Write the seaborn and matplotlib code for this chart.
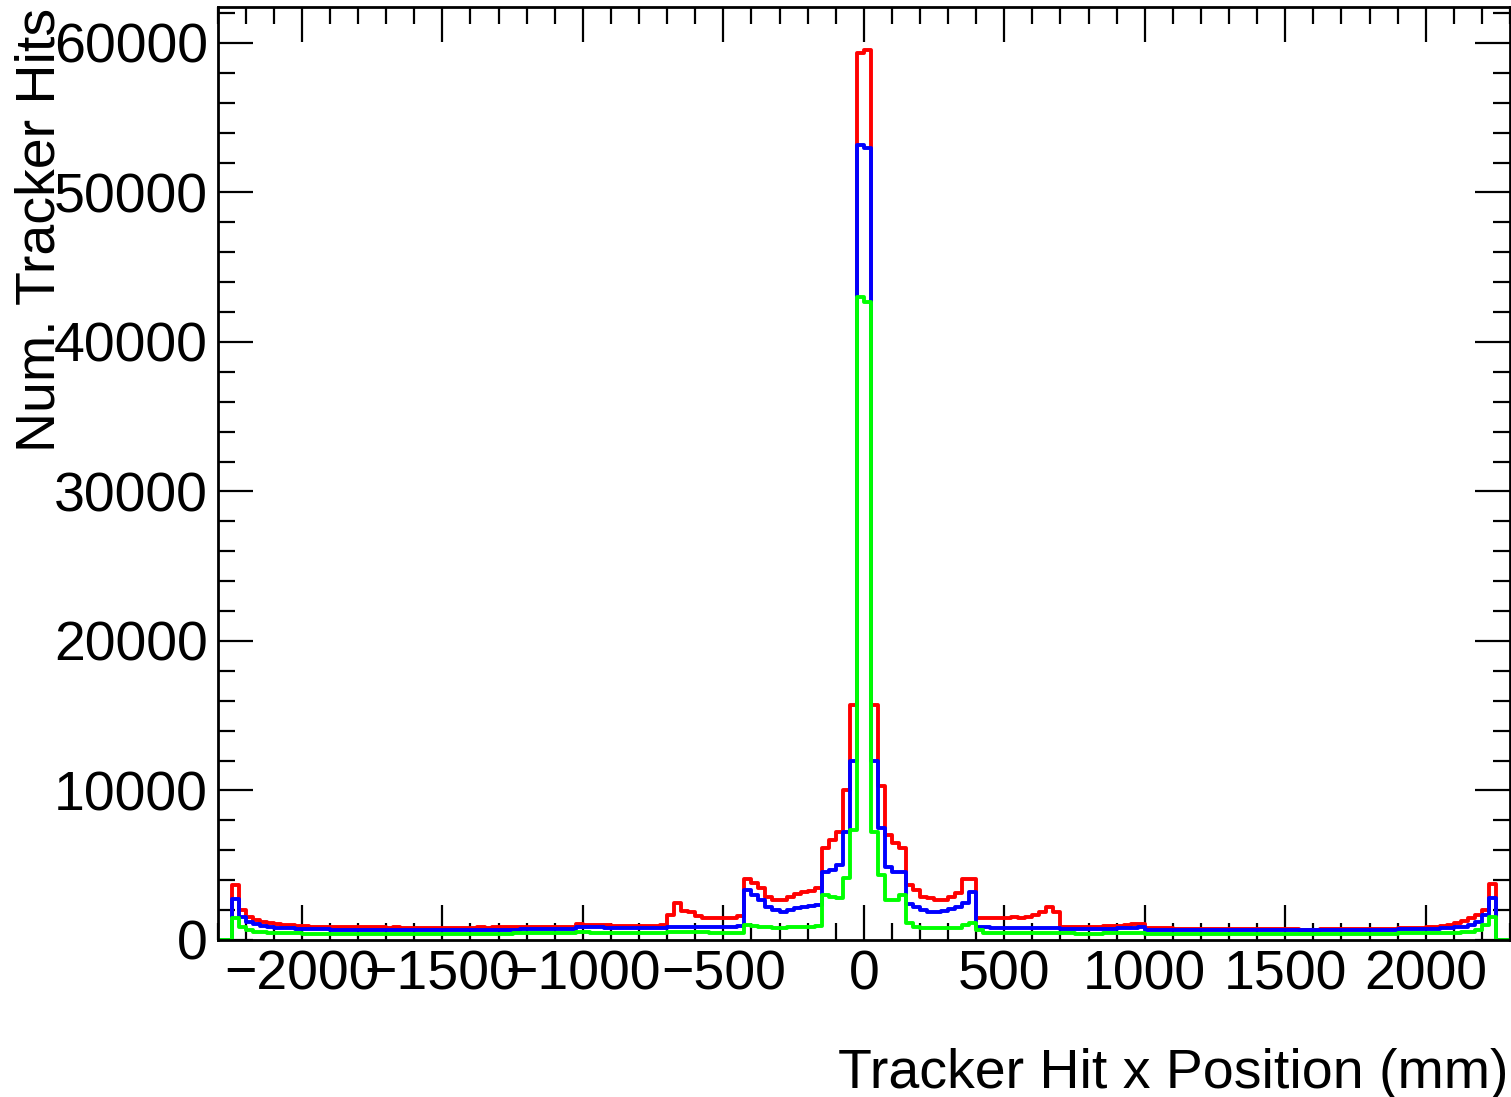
import numpy as np
import pandas as pd
import matplotlib
matplotlib.use("Agg")
import matplotlib.pyplot as plt
import seaborn as sns
from matplotlib.ticker import MultipleLocator

# ---------------- data (25 mm bins from -2300 to 2300) ----------------
bin_width = 25
x_min, x_max = -2300, 2300

red_counts = [
    0, 0, 3700, 2000, 1560, 1340, 1230, 1120, 1060, 1010,
    980, 950, 920, 900, 890, 880, 870, 860, 850, 860,
    850, 840, 850, 840, 830, 840, 830, 820, 830, 820,
    830, 820, 810, 820, 830, 820, 830, 840, 830, 840,
    850, 840, 850, 860, 850, 860, 870, 860, 870, 880,
    890, 1050, 1020, 1000, 980, 970, 960, 950, 950, 940,
    940, 950, 960, 980, 1650, 2500, 1950, 1900, 1600, 1480,
    1450, 1450, 1450, 1500, 1580, 4100, 3790, 3460, 2900, 2650,
    2700, 2900, 3100, 3200, 3300, 3500, 6130, 6690, 7250, 10000,
    15700, 59300, 59500, 15700, 10300, 7000, 6470, 6130, 3680, 3350,
    2900, 2800, 2680, 2680, 2900, 3120, 4050, 4050, 1450, 1450,
    1460, 1480, 1500, 1520, 1500, 1560, 1670, 1900, 2230, 1900,
    900, 900, 890, 890, 900, 900, 910, 920, 950, 1000,
    1050, 1100, 790, 780, 770, 770, 760, 760, 750, 750,
    740, 740, 730, 730, 730, 720, 720, 720, 720, 710,
    710, 710, 710, 710, 700, 700, 700, 710, 710, 710,
    720, 720, 720, 730, 730, 740, 750, 760, 770, 780,
    780, 820, 860, 900, 960, 1000, 1150, 1250, 1450, 1650,
    2000, 3750, 0, 0,
]

blue_counts = [
    0, 0, 2720, 1560, 1230, 1070, 940, 870, 820, 790,
    770, 750, 740, 730, 720, 710, 700, 700, 690, 690,
    680, 680, 680, 670, 670, 670, 670, 670, 670, 670,
    670, 670, 670, 680, 680, 680, 680, 690, 690, 690,
    700, 700, 700, 710, 710, 720, 720, 730, 730, 740,
    740, 880, 860, 850, 840, 830, 820, 810, 800, 800,
    800, 800, 810, 820, 880, 900, 900, 890, 880, 870,
    860, 860, 870, 880, 950, 3345, 3010, 2680, 2230, 2010,
    1900, 2010, 2120, 2230, 2270, 2340, 4570, 4680, 5020, 7250,
    12000, 53200, 53000, 12000, 7470, 4900, 4570, 4570, 2410, 2230,
    2010, 1900, 1900, 1960, 2050, 2230, 2450, 3230, 890, 850,
    830, 820, 810, 800, 790, 790, 790, 790, 790, 780,
    760, 750, 740, 740, 740, 740, 750, 760, 780, 800,
    820, 840, 680, 670, 670, 660, 660, 660, 650, 650,
    650, 650, 640, 640, 640, 640, 640, 640, 640, 640,
    640, 640, 640, 640, 640, 640, 650, 650, 650, 650,
    660, 660, 660, 670, 670, 680, 690, 700, 710, 720,
    730, 740, 740, 760, 780, 810, 850, 890, 1000, 1230,
    1670, 2790, 0, 0,
]

green_counts = [
    0, 0, 1450, 890, 670, 560, 510, 480, 460, 450,
    440, 440, 430, 430, 430, 430, 430, 430, 420, 420,
    420, 420, 420, 420, 420, 420, 420, 420, 420, 420,
    420, 420, 420, 420, 420, 420, 430, 430, 430, 430,
    430, 430, 440, 440, 440, 440, 450, 450, 450, 460,
    460, 520, 510, 500, 500, 490, 490, 480, 470, 470,
    470, 470, 480, 480, 520, 540, 540, 530, 520, 510,
    500, 490, 480, 470, 460, 1000, 960, 900, 850, 820,
    820, 840, 860, 880, 900, 930, 3010, 2900, 2800, 4125,
    7360, 43000, 42700, 7250, 4350, 2680, 2680, 3010, 1115, 890,
    800, 780, 780, 780, 790, 800, 1000, 1115, 670, 450,
    450, 450, 450, 450, 450, 450, 450, 450, 450, 450,
    440, 440, 430, 430, 430, 430, 440, 450, 470, 480,
    490, 500, 430, 420, 420, 420, 420, 420, 410, 410,
    410, 410, 410, 410, 410, 410, 410, 410, 410, 410,
    410, 410, 410, 410, 410, 410, 410, 410, 410, 410,
    420, 420, 420, 420, 420, 430, 430, 430, 440, 440,
    450, 450, 460, 460, 470, 480, 490, 520, 557, 670,
    1000, 1560, 0, 0,
]

series_colors = ["#ff0000", "#0000ff", "#00ff00"]
x_label = "Tracker Hit x Position (mm)"
y_label = "Num. Tracker Hits"

n_bins = len(red_counts)
centers = x_min + bin_width * (np.arange(n_bins) + 0.5)

# ---------------- style ----------------
sns.set_style("ticks")
plt.rcParams["font.family"] = ["Liberation Sans", "DejaVu Sans"]
plt.rcParams["axes.unicode_minus"] = True

W, H = 1511, 1097
fig = plt.figure(figsize=(W / 100, H / 100), dpi=100)
ax_l, ax_r, ax_t, ax_b = 217.6, 1510.0, 7.0, 940.0
ax = fig.add_axes([ax_l / W, (H - ax_b) / H, (ax_r - ax_l) / W, (ax_b - ax_t) / H])

for counts, color in zip([red_counts, blue_counts, green_counts], series_colors):
    df = pd.DataFrame({"x": centers, "w": np.asarray(counts, dtype=float)})
    sns.histplot(data=df, x="x", weights="w", bins=n_bins,
                 binrange=(x_min, x_max), element="step",
                 fill=False, color=color, linewidth=2.8, ax=ax)

ax.set_xlim(x_min, x_max)
ax.set_ylim(0, 62400)

ax.xaxis.set_major_locator(MultipleLocator(500))
ax.xaxis.set_minor_locator(MultipleLocator(100))
ax.yaxis.set_major_locator(MultipleLocator(10000))
ax.yaxis.set_minor_locator(MultipleLocator(2000))

ax.tick_params(which="both", direction="in", top=True, right=True,
               color="black", width=1.6, labelsize=40, labelcolor="black")
ax.tick_params(which="major", length=25)
ax.tick_params(which="minor", length=12.5)
ax.tick_params(axis="x", pad=7)
ax.tick_params(axis="y", pad=7)

for sp in ax.spines.values():
    sp.set_visible(True)
    sp.set_color("black")
    sp.set_linewidth(2)

ax.set_xlabel(x_label, fontsize=40, ha="right", va="baseline", color="black")
ax.xaxis.set_label_coords((1508 - ax_l) / (ax_r - ax_l), (ax_b - 1088) / (ax_b - ax_t))
ax.set_ylabel(y_label, fontsize=40, ha="right", va="baseline", color="black")
ax.yaxis.set_label_coords((55 - ax_l) / (ax_r - ax_l), (ax_b - 8) / (ax_b - ax_t))

ax.grid(False)
fig.savefig("out.png", dpi=100)
